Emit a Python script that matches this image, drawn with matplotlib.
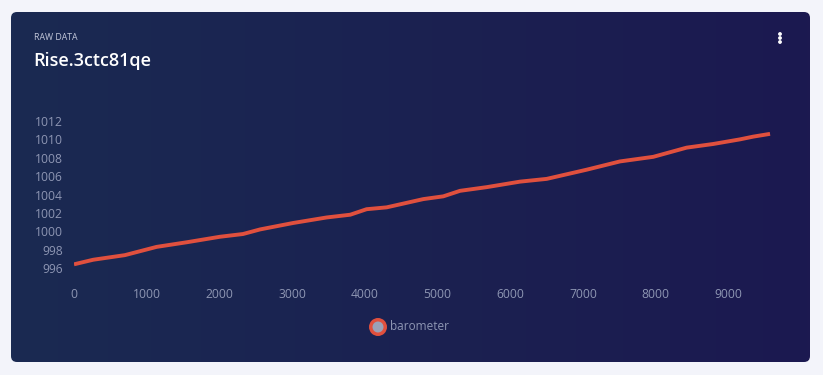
import numpy as np
import matplotlib
matplotlib.use('Agg')
import matplotlib.pyplot as plt
from matplotlib.patches import FancyBboxPatch, Circle

# barometer readings
samples = [0, 265, 700, 1137, 1550, 2008, 2325, 2560, 3015, 3475, 3800, 4025,
           4300, 4805, 5080, 5310, 5677, 6135, 6502, 7052, 7510, 7968, 8427,
           8794, 9160, 9344, 9574]
pressure = [996.4, 996.9, 997.4, 998.3, 998.8, 999.4, 999.7, 1000.2, 1000.9,
            1001.5, 1001.8, 1002.4, 1002.6, 1003.5, 1003.8, 1004.4, 1004.8,
            1005.4, 1005.7, 1006.7, 1007.6, 1008.1, 1009.1, 1009.5, 1010.0,
            1010.3, 1010.6]
x_ticks = [0, 1000, 2000, 3000, 4000, 5000, 6000, 7000, 8000, 9000]
y_ticks = [996, 998, 1000, 1002, 1004, 1006, 1008, 1010, 1012]
series_name = 'barometer'
card_label = 'RAW DATA'
card_title = 'Rise.3ctc81qe'

W, H = 823, 375
plt.rcParams['font.family'] = ['Open Sans', 'DejaVu Sans']

fig = plt.figure(figsize=(W / 100, H / 100), dpi=100)
fig.patch.set_facecolor('#f3f4fa')

# card background with left-to-right gradient
bg = fig.add_axes([0, 0, 1, 1])
bg.set_xlim(0, W)
bg.set_ylim(H, 0)
bg.axis('off')
card = FancyBboxPatch((11, 12), 799, 350, boxstyle='round,pad=0,rounding_size=6',
                      facecolor='none', edgecolor='none')
bg.add_patch(card)
c1 = np.array([0x1a, 0x2a, 0x52]) / 255
c2 = np.array([0x1c, 0x19, 0x50]) / 255
t = np.linspace(0, 1, 256)
grad = (c1[None, :] * (1 - t[:, None]) + c2[None, :] * t[:, None])[None, :, :]
im = bg.imshow(grad, extent=(11, 810, 362, 12), aspect='auto', zorder=0)
im.set_clip_path(card)

bg.text(34, 38, card_label, fontsize=6.3, color='#c3c8da', va='center', ha='left')
bg.text(33, 61, card_title, fontsize=13, color='white', fontweight='semibold',
        va='center', ha='left')
for dy in (-4, 0, 4):
    bg.add_patch(Circle((780, 38 + dy), 1.2, color='white'))

# legend
bg.add_patch(Circle((378, 327), 9, facecolor='#e0503e', edgecolor='none'))
bg.add_patch(Circle((378, 327), 5.5, facecolor='#9aa1b8', edgecolor='none'))
bg.text(390, 326, series_name, fontsize=8.5, color='#8e96b3', va='center', ha='left')

# plot area: x 0 -> px 74, 1000 units = 72.7 px; y 996 -> px 268, 1012 -> px 121
xmin, xmax = 0, 9700
ymin, ymax = 995.3, 1013
px_x = 72.7 / 1000
px_y = (268 - 121) / 16
left = 74
right = left + xmax * px_x
top = 268 - (ymax - 996) * px_y
bottom = 268 + (996 - ymin) * px_y
ax = fig.add_axes([left / W, 1 - bottom / H, (right - left) / W, (bottom - top) / H])
ax.set_facecolor('none')
ax.plot(samples, pressure, color='#e0503e', lw=2.8, solid_capstyle='butt')
ax.set_xlim(xmin, xmax)
ax.set_ylim(ymin, ymax)
ax.set_xticks(x_ticks)
ax.set_yticks(y_ticks)
for s in ax.spines.values():
    s.set_visible(False)
ax.tick_params(length=0, colors='#8e96b3', labelsize=8.7)
ax.tick_params(axis='x', pad=10)
ax.tick_params(axis='y', pad=8)

fig.savefig('out.png', dpi=100, facecolor=fig.get_facecolor())
